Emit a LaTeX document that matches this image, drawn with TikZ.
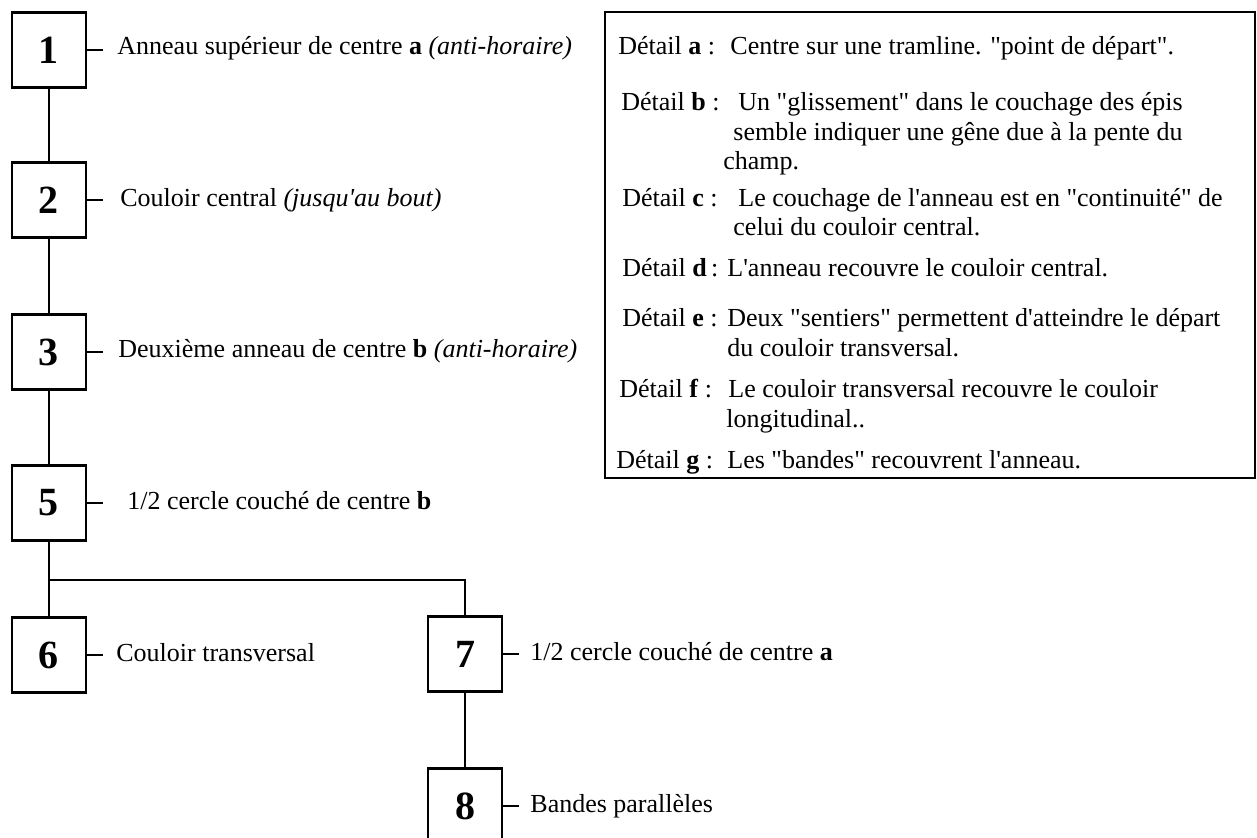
\documentclass[tikz,border=0pt]{standalone}
\usepackage{fontspec}
\setmainfont{Liberation Serif}[Ligatures=TeXOff]
\tikzset{
  etape/.style={draw, line width=1.2pt, minimum width=37pt, minimum height=37.5pt, inner sep=0pt, font=\fontsize{20}{24}\selectfont\bfseries},
  lien/.style={line width=1.2pt},
  texte/.style={anchor=base west, inner sep=0pt, font=\fontsize{13}{15}\selectfont},
}
\begin{document}
\begin{tikzpicture}[x=0.5pt,y=-0.5pt]
	\useasboundingbox (0,0) rectangle (1257,837);
	\clip (0,0) rectangle (1257,837);
	
	%%%%% ETAPES %%%%%
	\node[etape] (b1) at (49,50) {1};
	\node[etape] (b2) at (49,200) {2};
	\node[etape] (b3) at (49,352) {3};
	\node[etape] (b5) at (49,503) {5};
	\node[etape] (b6) at (49,655) {6};
	\node[etape] (b7) at (465,654) {7};
	\node[etape] (b8) at (465,806) {8};
	\coordinate (fourche) at (49,580);
	
	\draw[lien] (b1) -- (b2);
	\draw[lien] (b2) -- (b3);
	\draw[lien] (b3) -- (b5);
	\draw[lien] (b5) -- (fourche) -- (b6);
	\draw[lien] (fourche) -| (b7);
	\draw[lien] (b7) -- (b8);
	
	\draw[lien] (b1.east) -- ++(16,0);
	\draw[lien] (b2.east) -- ++(16,0);
	\draw[lien] (b3.east) -- ++(16,0);
	\draw[lien] (b5.east) -- ++(16,0);
	\draw[lien] (b6.east) -- ++(16,0);
	\draw[lien] (b7.east) -- ++(16,0);
	\draw[lien] (b8.east) -- ++(16,0);
	
	\node[texte] (t1) at (117,54) {Anneau supérieur de centre \textbf{a} \textit{(anti-horaire)}};
	\node[texte] (t2) at (120,206) {Couloir central \textit{(jusqu'au bout)}};
	\node[texte] (t3) at (118,357) {Deuxième anneau de centre \textbf{b} \textit{(anti-horaire)}};
	\node[texte] (t5) at (127,509) {1/2 cercle couché de centre \textbf{b}};
	\node[texte] (t6) at (116,661) {Couloir transversal};
	\node[texte] (t7) at (530,660) {1/2 cercle couché de centre \textbf{a}};
	\node[texte] (t8) at (530,812) {Bandes parallèles};
	
	%%%%% DETAILS %%%%%
	\draw[lien] (605,12) rectangle (1255,478);
	
	\node[texte] (la) at (618,54) {Détail \textbf{a} :};
	\node[texte] (ca) at (730,54) {Centre sur une tramline. "point de départ".};
	
	\node[texte] (lb) at (621,110) {Détail \textbf{b} :};
	\node[texte] (cb) at (738,110) {Un "glissement" dans le couchage des épis};
	\node[texte] (cb2) at (733,140) {semble indiquer une gêne due à la pente du};
	\node[texte] (cb3) at (723,169) {champ.};
	
	\node[texte] (lc) at (622,206) {Détail \textbf{c} :};
	\node[texte] (cc) at (738,206) {Le couchage de l'anneau est en "continuité" de};
	\node[texte] (cc2) at (733,235) {celui du couloir central.};
	
	\node[texte] (ld) at (622,276) {Détail \textbf{d}\,:};
	\node[texte] (cd) at (727,276) {L'anneau recouvre le couloir central.};
	
	\node[texte] (le) at (622,326) {Détail \textbf{e} :};
	\node[texte] (ce) at (727,326) {Deux "sentiers" permettent d'atteindre le départ};
	\node[texte] (ce2) at (727,356) {du couloir transversal.};
	
	\node[texte] (lf) at (619,397) {Détail \textbf{f} :};
	\node[texte] (cf) at (728,397) {Le couloir transversal recouvre le couloir};
	\node[texte] (cf2) at (726,427) {longitudinal..};
	
	\node[texte] (lg) at (616,468) {Détail \textbf{g} :};
	\node[texte] (cg) at (727,468) {Les "bandes" recouvrent l'anneau.};
	
\end{tikzpicture}
\end{document}
